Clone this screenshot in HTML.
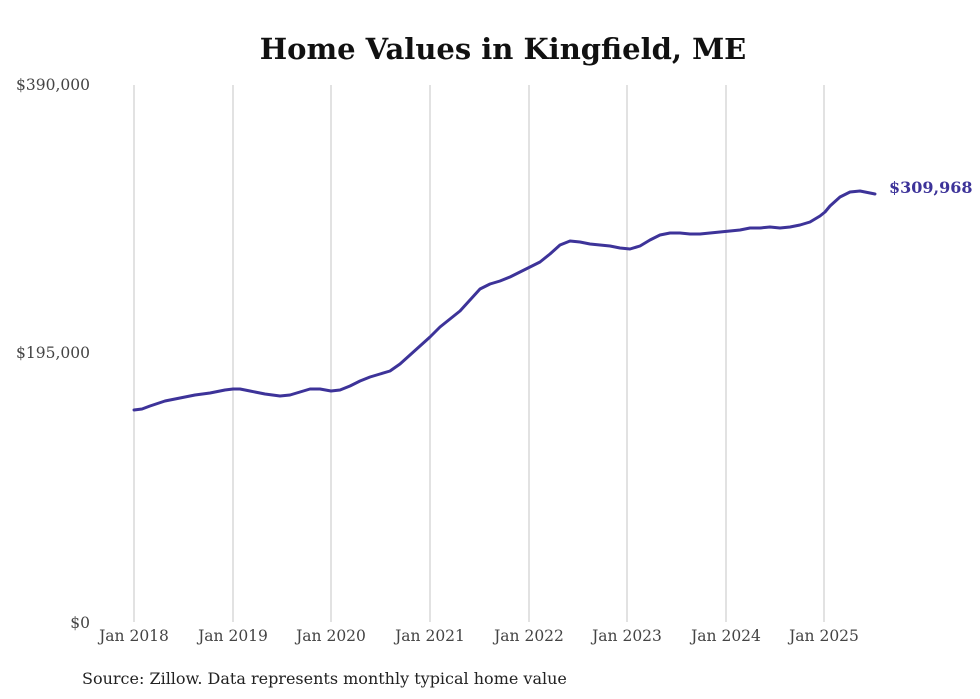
<!DOCTYPE html>
<html><head><meta charset="utf-8"><style>
html,body{margin:0;padding:0;background:#fff;width:980px;height:699px;overflow:hidden}
</style></head><body>
<svg width="980" height="699" xmlns="http://www.w3.org/2000/svg" font-family="'DejaVu Serif','Liberation Serif',serif">
<text x="503" y="59" text-anchor="middle" font-size="29" font-weight="bold" fill="#111">Home Values in Kingfield, ME</text>
<g stroke="#c4c4c4" stroke-width="1">
<line x1="134" y1="85" x2="134" y2="622"/><line x1="233" y1="85" x2="233" y2="622"/>
<line x1="331" y1="85" x2="331" y2="622"/><line x1="430" y1="85" x2="430" y2="622"/>
<line x1="529" y1="85" x2="529" y2="622"/><line x1="627" y1="85" x2="627" y2="622"/>
<line x1="726" y1="85" x2="726" y2="622"/><line x1="824" y1="85" x2="824" y2="622"/>
</g>
<g font-size="15.5" fill="#444">
<text x="90" y="90" text-anchor="end">$390,000</text>
<text x="90" y="358" text-anchor="end">$195,000</text>
<text x="90" y="628" text-anchor="end">$0</text>
</g>
<g font-size="15.5" fill="#444" text-anchor="middle">
<text x="134" y="641">Jan 2018</text><text x="233" y="641">Jan 2019</text>
<text x="331" y="641">Jan 2020</text><text x="430" y="641">Jan 2021</text>
<text x="529" y="641">Jan 2022</text><text x="627" y="641">Jan 2023</text>
<text x="726" y="641">Jan 2024</text><text x="824" y="641">Jan 2025</text>
</g>
<polyline fill="none" stroke="#3d3399" stroke-width="3" stroke-linejoin="round" stroke-linecap="round" points="134,410 142,409 150,406 165,401 180,398 195,395 210,393 225,390 233,389 240,389 250,391 265,394 280,396 290,395 300,392 310,389 320,389 331,391 340,390 350,386 360,381 370,377 380,374 390,371 400,364 410,355 420,346 430,337 440,327 450,319 460,311 470,300 480,289 490,284 500,281 510,277 520,272 530,267 540,262 550,254 560,245 570,241 580,242 590,244 600,245 610,246 620,248 630,249 640,246 650,240 660,235 670,233 680,233 690,234 700,234 710,233 720,232 730,231 740,230 750,228 760,228 770,227 780,228 790,227 800,225 810,222 820,216 825,212 830,206 840,197 850,192 860,191 870,193 875,194"/>
<text x="889" y="193" font-size="16" font-weight="bold" fill="#3d3399">$309,968</text>
<text x="82" y="684" font-size="16" fill="#222">Source: Zillow. Data represents monthly typical home value</text>
</svg>
</body></html>
